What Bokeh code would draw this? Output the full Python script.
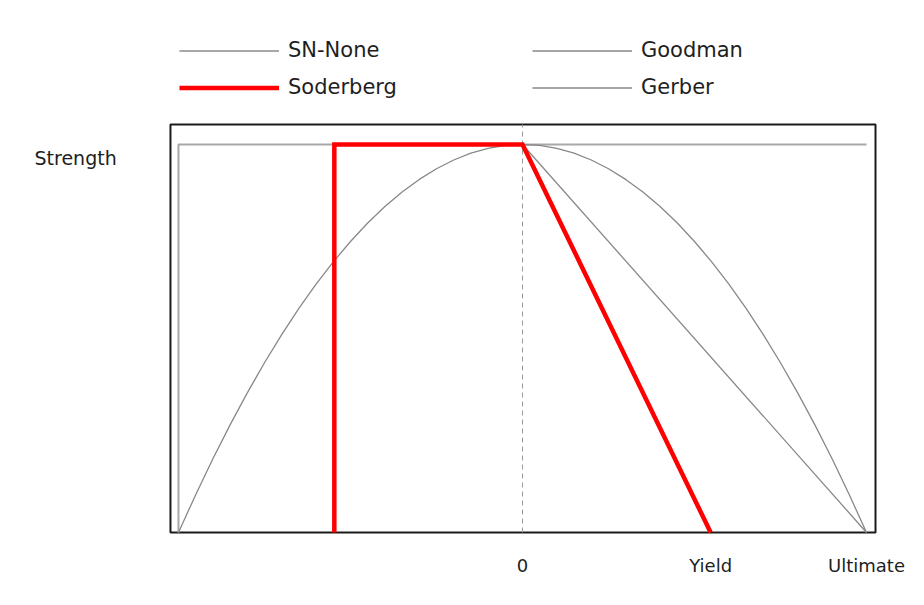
from bokeh.plotting import figure
from bokeh.models import Legend, LegendItem, FixedTicker, Label, Range1d
from bokeh.embed import file_html
from bokeh.resources import INLINE

# ---- data (normalised: ultimate strength = 1, endurance strength = 1) ----
ultimate = 1.0
yield_s = 0.547
strength = 1.0

tick_values = [0.0, yield_s, ultimate]
tick_labels = ["0", "Yield", "Ultimate"]

sn_x = [-ultimate, -ultimate, ultimate]
sn_y = [0.0, strength, strength]

sod_x = [-yield_s, -yield_s, 0.0, yield_s]
sod_y = [0.0, strength, strength, 0.0]

good_x = [0.0, ultimate]
good_y = [strength, 0.0]

gerber_x = [-1.0, -0.95, -0.9, -0.85, -0.8, -0.75, -0.7, -0.65, -0.6, -0.55,
            -0.5, -0.45, -0.4, -0.35, -0.3, -0.25, -0.2, -0.15, -0.1, -0.05,
            0.0, 0.05, 0.1, 0.15, 0.2, 0.25, 0.3, 0.35, 0.4, 0.45, 0.5,
            0.55, 0.6, 0.65, 0.7, 0.75, 0.8, 0.85, 0.9, 0.95, 1.0]
gerber_y = [0.0, 0.0975, 0.19, 0.2775, 0.36, 0.4375, 0.51, 0.5775, 0.64,
            0.6975, 0.75, 0.7975, 0.84, 0.8775, 0.91, 0.9375, 0.96, 0.9775,
            0.99, 0.9975, 1.0, 0.9975, 0.99, 0.9775, 0.96, 0.9375, 0.91,
            0.8775, 0.84, 0.7975, 0.75, 0.6975, 0.64, 0.5775, 0.51, 0.4375,
            0.36, 0.2775, 0.19, 0.0975, 0.0]

# chart box (the visible plotting rectangle) in data units
box_left, box_right = -1.0233, 1.0262
box_bottom, box_top = 0.0, 1.0515

FONT = "DejaVu Sans"
TXT = "#1e1e1e"

p = figure(width=908, height=589, output_backend="svg", toolbar_location=None,
           x_range=Range1d(-1.5174, 1.1221), y_range=Range1d(-0.0206, 1.3711),
           min_border_left=0, min_border_right=0, min_border_top=0,
           min_border_bottom=49)
p.background_fill_color = "white"
p.border_fill_color = "white"
p.outline_line_color = None
p.grid.visible = False
p.yaxis.visible = False

xa = p.xaxis[0]
xa.ticker = FixedTicker(ticks=tick_values)
xa.major_label_overrides = {v: t for v, t in zip(tick_values, tick_labels)}
xa.axis_line_color = None
xa.major_tick_line_color = None
xa.minor_tick_line_color = None
xa.major_label_standoff = 8
xa.major_label_text_font = FONT
xa.major_label_text_font_size = "18px"
xa.major_label_text_color = TXT

# chart box
p.quad(left=[box_left], right=[box_right], bottom=[box_bottom], top=[box_top],
       fill_color=None, line_color="#1a1a1a", line_width=2)
# dashed zero line
p.segment(x0=[0.0], y0=[box_bottom], x1=[0.0], y1=[box_top],
          line_color="#9a9a9a", line_width=1, line_dash="5 4")

r_sn = p.line(sn_x, sn_y, line_color="#a8a8a8", line_width=2)
r_gerber = p.line(gerber_x, gerber_y, line_color="#888888", line_width=1.3)
r_good = p.line(good_x, good_y, line_color="#888888", line_width=1.3)
r_sod = p.line(sod_x, sod_y, line_color="#ff0000", line_width=4.5,
               line_join="miter")

p.add_layout(Label(x=34, x_units="screen", y=strength, y_offset=-14,
                   text="Strength", text_font=FONT, text_font_size="19px",
                   text_color=TXT, text_baseline="middle"))

def make_legend(items, vx):
    return Legend(items=items, location=(vx, 434.5), orientation="vertical",
                  glyph_width=100, glyph_height=37, label_height=37,
                  label_standoff=9, spacing=0, padding=0, margin=0,
                  border_line_color=None, background_fill_alpha=0,
                  label_text_font=FONT, label_text_font_size="21px",
                  label_text_color=TXT, label_text_baseline="middle")

p.add_layout(make_legend([LegendItem(label="SN-None", renderers=[r_sn]),
                          LegendItem(label="Soderberg", renderers=[r_sod])], 179))
p.add_layout(make_legend([LegendItem(label="Goodman", renderers=[r_good]),
                          LegendItem(label="Gerber", renderers=[r_gerber])], 532))

open("out.html", "w").write(file_html(p, INLINE))
